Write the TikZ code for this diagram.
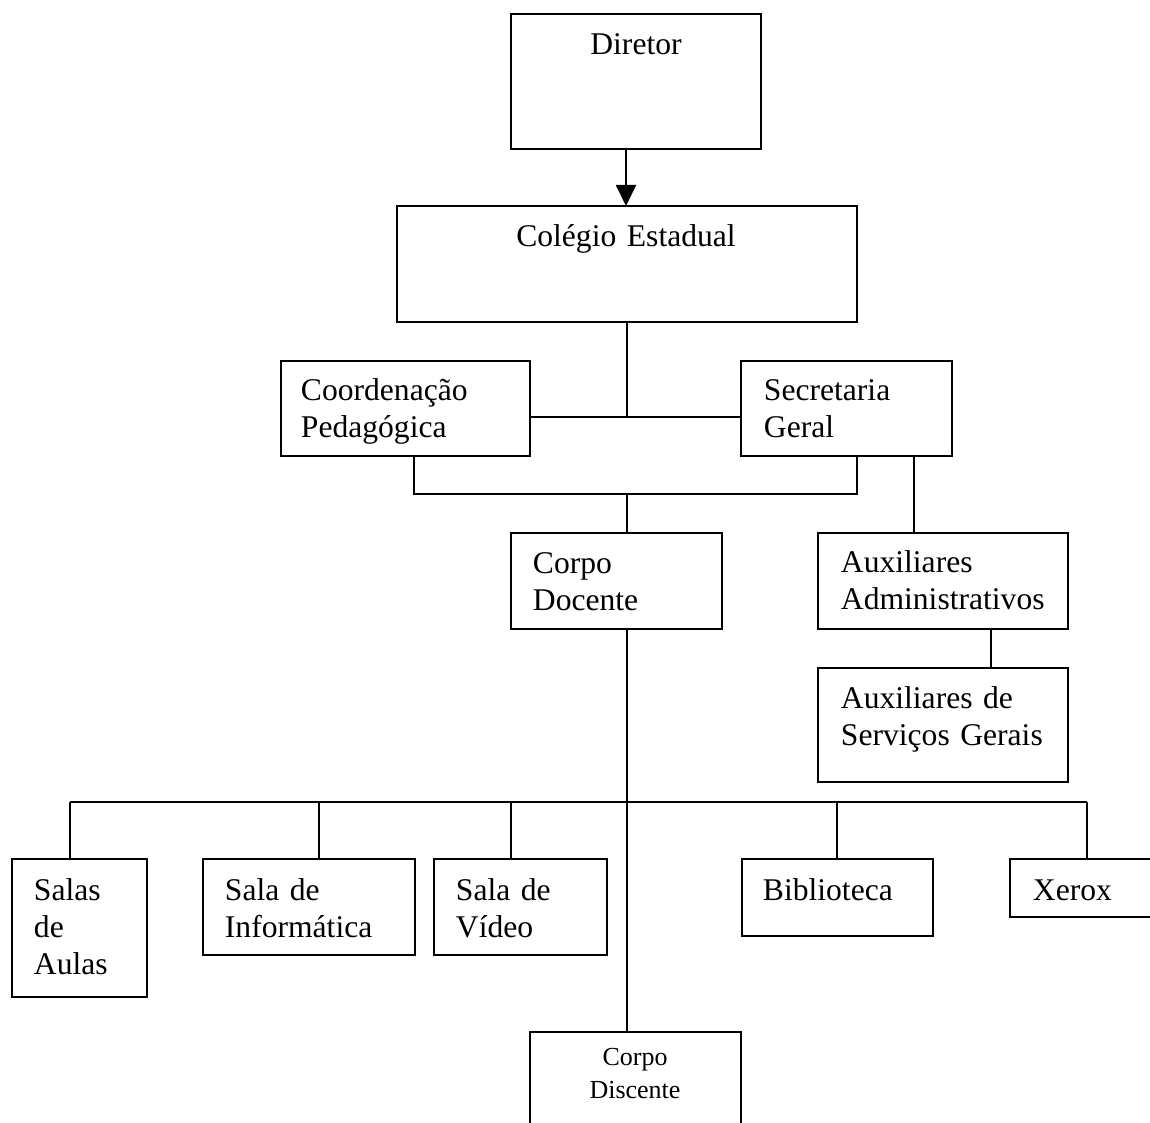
\documentclass[tikz,border=0pt]{standalone}
\usepackage{fontspec}
\setmainfont{Liberation Serif}
\usetikzlibrary{arrows.meta}

\begin{document}
\begin{tikzpicture}[x=1pt, y=-1pt, line width=1.9pt,
                          boxnode/.style={rectangle, draw, anchor=north west, inner sep=0pt, outer sep=0pt},
                          labeltext/.style={anchor=base west, inner sep=0pt, text width=240pt, align=left, font=\fontsize{31.6}{37}\selectfont},
                          centertext/.style={labeltext, anchor=base, align=center},
                          smalltext/.style={centertext, font=\fontsize{26}{33}\selectfont},
                      ]
                      \useasboundingbox (0,0) rectangle (1150,1123);
                      \clip (0,0) rectangle (1150,1123);

                      % Boxes
                      \node[boxnode, minimum width=250pt, minimum height=135pt] (diretor)  at (511,14)   {};
                      \node[boxnode, minimum width=460pt, minimum height=116pt] (colegio)  at (397,206)  {};
                      \node[boxnode, minimum width=249pt, minimum height=95pt]  (coord)    at (281,361)  {};
                      \node[boxnode, minimum width=211pt, minimum height=95pt]  (sec)      at (741,361)  {};
                      \node[boxnode, minimum width=211pt, minimum height=96pt]  (docente)  at (511,533)  {};
                      \node[boxnode, minimum width=250pt, minimum height=96pt]  (auxadm)   at (818,533)  {};
                      \node[boxnode, minimum width=250pt, minimum height=114pt] (auxserv)  at (818,668)  {};
                      \node[boxnode, minimum width=135pt, minimum height=138pt] (aulas)    at (12,859)   {};
                      \node[boxnode, minimum width=212pt, minimum height=96pt]  (info)     at (203,859)  {};
                      \node[boxnode, minimum width=173pt, minimum height=96pt]  (video)    at (434,859)  {};
                      \node[boxnode, minimum width=191pt, minimum height=77pt]  (biblio)   at (742,859)  {};
                      \node[boxnode, minimum width=200pt, minimum height=58pt]  (xerox)    at (1010,859) {};
                      \node[boxnode, minimum width=211pt, minimum height=150pt] (discente) at (530,1032) {};

                      % Texts
                      \node[centertext] (diretor_txt)  at (636,55)  {Diretor};
                      \node[centertext] (colegio_txt)  at (626,247) {Colégio Estadual};
                      \node[labeltext]  (coord_txt)    at (300,400) {Coordenação\\Pedagógica};
                      \node[labeltext]  (sec_txt)      at (763,400) {Secretaria\\Geral};
                      \node[labeltext]  (docente_txt)  at (532,573) {Corpo\\Docente};
                      \node[labeltext]  (auxadm_txt)   at (840,572) {Auxiliares\\Administrativos};
                      \node[labeltext]  (auxserv_txt)  at (840,708) {Auxiliares de\\Serviços Gerais};
                      \node[labeltext]  (aulas_txt)    at (33,900)  {Salas\\de\\Aulas};
                      \node[labeltext]  (info_txt)     at (224,900) {Sala de\\Informática};
                      \node[labeltext]  (video_txt)    at (455,900) {Sala de\\Vídeo};
                      \node[labeltext]  (biblio_txt)   at (762,900) {Biblioteca};
                      \node[labeltext]  (xerox_txt)    at (1032,900) {Xerox};
                      \node[smalltext]  (discente_txt) at (635,1065) {Corpo\\Discente};

                      %Lines
                      \coordinate (j_arrow) at (626,180);
                      \coordinate (j_sec)   at (627,417);
                      \coordinate (j_left)  at (414,494);
                      \coordinate (j_right) at (857,494);
                      \coordinate (j_doc)   at (627,494);
                      \coordinate (j_aux)   at (914,500);
                      \coordinate (j_serv)  at (991,650);

                      \draw[-{Triangle[length=21pt,width=20pt]}] (diretor.south -| j_arrow) -- (colegio.north -| j_arrow);
                      \draw (colegio.south) -- (j_sec);
                      \draw (coord.east |- j_sec) -- (sec.west |- j_sec);
                      \draw (coord.south -| j_left) -- (j_left) -- (j_right) -- (sec.south -| j_right);
                      \draw (j_doc) -- (docente.north -| j_doc);
                      \draw (sec.south -| j_aux) -- (auxadm.north -| j_aux);
                      \draw (auxadm.south -| j_serv) -- (auxserv.north -| j_serv);
                      \draw (docente.south -| j_doc) -- (discente.north -| j_doc);

                      \coordinate (bus_l) at (70,802);
                      \coordinate (bus_r) at (1087,802);
                      \draw (bus_l) -- (bus_r);
                      \foreach \room/\x in {aulas/70, info/319, video/511, biblio/837, xerox/1087} {
                          \coordinate (b_\room) at (\x,802);
                          \draw (b_\room) -- (\room.north -| b_\room);
                      }
                  \end{tikzpicture}
\end{document}
